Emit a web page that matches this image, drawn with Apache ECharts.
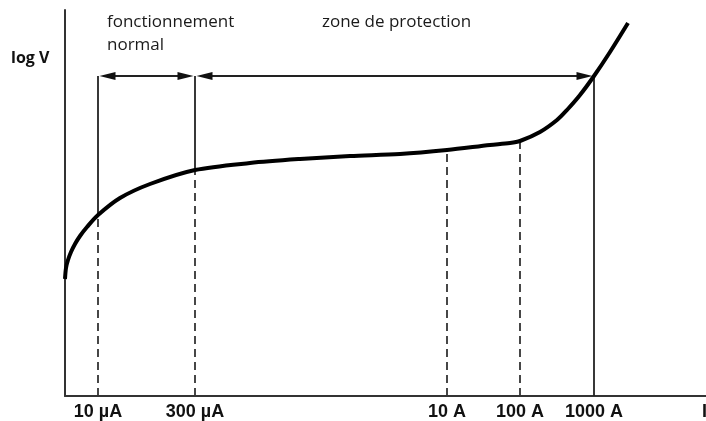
<!DOCTYPE html>
<html>
<head>
<meta charset="utf-8">
<script src="https://cdn.jsdelivr.net/npm/echarts@6/dist/echarts.min.js"></script>
<style>
  html, body { margin: 0; padding: 0; background: #fff; }
  #chart { width: 706px; height: 421px; }
</style>
</head>
<body>
<div id="chart"></div>
<script>
// Current axis: schematic (non-uniform) positions of the marked currents
const currentLabels = ['10 µA', '300 µA', '10 A', '100 A', '1000 A'];
const currentPos = [33, 130, 382, 455, 529];

// Varistor characteristic: schematic position along the current axis vs. log V level
const curveX = [0, 1, 3, 6, 10, 15, 22, 33, 55, 85, 130, 185, 235, 285, 335, 382, 425, 445, 455, 475, 492, 502, 515, 529, 545, 563];
const curveY = [117, 128, 136, 144, 152, 160, 169, 181, 198, 212, 226, 233, 237, 240, 242, 246, 251, 253, 255, 264, 276, 286, 301, 320, 344, 373];

// Guide style per marked current: 'split' = solid above the curve, dashed below
const guideKinds = ['split', 'split', 'dashed', 'dashed', 'solid'];

// Range arrows: [from label index, to label index], drawn at arrowLevel
const arrowLevel = 320;
const rangeArrows = [[0, 1], [1, 4]];

const xMax = 641;
const yMax = 386;

function curveAt(x) {
  return curveY[curveX.indexOf(x)];
}

const curveData = curveX.map((x, i) => [x, curveY[i]]);
const guideData = currentPos.map(x => [x, curveAt(x)]);
const arrowData = rangeArrows.map(([a, b]) => [currentPos[a], currentPos[b], arrowLevel]);

const ink = '#222';

function seg(p1, p2, style) {
  return { type: 'line', shape: { x1: p1[0], y1: p1[1], x2: p2[0], y2: p2[1] }, style: style };
}

function renderGuide(params, api) {
  const x = api.value(0);
  const yc = api.value(1);
  const kind = guideKinds[params.dataIndex];
  const top = api.coord([x, arrowLevel]);
  const mid = api.coord([x, yc]);
  const base = api.coord([x, 0]);
  const solid = { stroke: ink, lineWidth: 1.8, fill: null };
  const dashed = { stroke: '#333', lineWidth: 1.8, lineDash: [8, 5], fill: null };
  const children = [];
  if (kind === 'split') {
    children.push(seg(top, mid, solid));
    children.push(seg(base, mid, dashed));
  } else if (kind === 'dashed') {
    children.push(seg(base, mid, dashed));
  } else {
    children.push(seg(top, base, solid));
  }
  return { type: 'group', children: children };
}

function renderArrow(params, api) {
  const a = api.coord([api.value(0), api.value(2)]);
  const b = api.coord([api.value(1), api.value(2)]);
  const gap = 1.5, len = 16, half = 4;
  const xa = a[0] + gap, xb = b[0] - gap, y = a[1];
  return {
    type: 'group',
    children: [
      seg([xa + len - 2, y], [xb - len + 2, y], { stroke: ink, lineWidth: 2 }),
      { type: 'polygon', shape: { points: [[xa, y], [xa + len, y - half], [xa + len, y + half]] }, style: { fill: '#111' } },
      { type: 'polygon', shape: { points: [[xb, y], [xb - len, y - half], [xb - len, y + half]] }, style: { fill: '#111' } }
    ]
  };
}

const chart = echarts.init(document.getElementById('chart'), null, { renderer: 'canvas' });

const noteFont = '"Open Sans", Lato, sans-serif';
const tickFont = '"Liberation Sans", Arial, sans-serif';

chart.setOption({
  animation: false,
  backgroundColor: '#fff',
  grid: { left: 65, right: 0, top: 10, bottom: 25, containLabel: false },
  xAxis: {
    type: 'value',
    min: 0,
    max: xMax,
    axisLine: { show: true, onZero: false, lineStyle: { color: '#333', width: 2 } },
    axisTick: { show: false },
    splitLine: { show: false },
    axisLabel: {
      customValues: currentPos,
      formatter: v => currentLabels[currentPos.indexOf(v)] || '',
      fontFamily: tickFont,
      fontWeight: 'bold',
      fontSize: 18,
      color: '#111',
      margin: 7
    }
  },
  yAxis: {
    type: 'value',
    min: 0,
    max: yMax,
    axisLine: { show: true, lineStyle: { color: '#333', width: 2 } },
    axisTick: { show: false },
    axisLabel: { show: false },
    splitLine: { show: false }
  },
  series: [
    {
      type: 'custom',
      name: 'guides',
      renderItem: renderGuide,
      data: guideData,
      encode: { x: 0, y: 1 },
      z: 2,
      silent: true
    },
    {
      type: 'custom',
      name: 'ranges',
      renderItem: renderArrow,
      data: arrowData,
      encode: { x: [0, 1], y: 2 },
      z: 3,
      silent: true
    },
    {
      type: 'line',
      name: 'log V',
      data: curveData,
      smooth: 0.3,
      showSymbol: false,
      symbol: 'none',
      lineStyle: { color: '#000', width: 4 },
      z: 5,
      silent: true
    }
  ],
  graphic: [
    { type: 'text', left: 11, top: 50, style: { text: 'log V', font: 'bold 16px ' + noteFont, fill: '#111' } },
    { type: 'text', left: 107, top: 14, style: { text: 'fonctionnement', font: '17px ' + noteFont, fill: '#1a1a1a' } },
    { type: 'text', left: 107, top: 37, style: { text: 'normal', font: '17px ' + noteFont, fill: '#1a1a1a' } },
    { type: 'text', left: 322, top: 14, style: { text: 'zone de protection', font: '17px ' + noteFont, fill: '#1a1a1a' } },
    { type: 'text', left: 702, top: 403, style: { text: 'I', font: 'bold 18px ' + tickFont, fill: '#111' } }
  ]
});
</script>
</body>
</html>
